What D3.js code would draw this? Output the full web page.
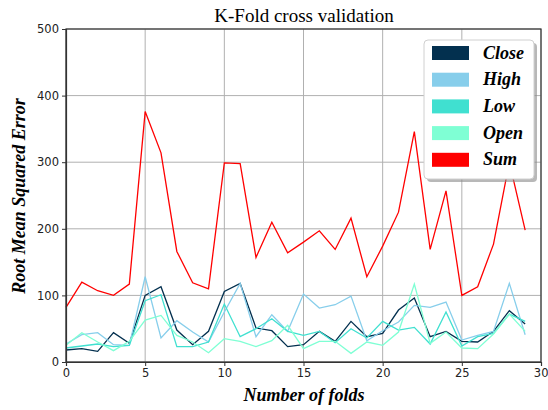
<!DOCTYPE html>
<html><head><meta charset="utf-8">
<script src="https://cdn.jsdelivr.net/npm/d3@7"></script>
<style>body{margin:0;background:#fff;} svg{display:block;}</style>
</head><body>
<svg id="chart" width="548" height="410"></svg>
<script>
const folds = d3.range(0, 30);
const closeVals = [18,20,16,44,28,100,113,48,26,46,106,118,51,47,23,26,46,31,61,38,43,78,96,38,46,31,30,46,77,57];
const highVals  = [27,41,44,26,25,128,36,62,45,30,75,118,38,71,46,102,81,86,99,32,47,60,85,82,90,33,40,46,118,41];
const lowVals   = [21,24,27,23,25,92,101,23,23,30,87,38,50,65,46,40,46,29,50,36,61,48,52,27,75,24,38,43,72,61];
const openVals  = [25,44,30,17,31,63,70,40,30,14,35,31,23,32,55,20,31,31,13,30,25,45,117,28,45,21,20,42,72,46];
const sumVals   = [82,120,107,100,117,376,314,166,119,110,299,298,157,210,164,180,197,169,216,128,174,225,346,169,257,100,113,177,300,198];
const seriesNames = ["Close","High","Low","Open","Sum"];
const seriesColors = ["#03304f","#87ceeb","#40e0d0","#7fffd4","#ff0000"];
const seriesData = [closeVals, highVals, lowVals, openVals, sumVals];
const xTicks = [0,5,10,15,20,25,30];
const yTicks = [0,100,200,300,400,500];

const svg = d3.select("#chart");
const m = {l:66, r:7, t:29, b:48};
const W = 548, H = 410;
const x = d3.scaleLinear().domain([0,30]).range([m.l, W - m.r]);
const y = d3.scaleLinear().domain([0,500]).range([H - m.b, m.t]);

// grid
svg.append("g").selectAll("line").data(xTicks).join("line")
  .attr("x1", d=>x(d)).attr("x2", d=>x(d)).attr("y1", y(0)).attr("y2", y(500))
  .attr("stroke", "#b0b0b0").attr("stroke-width", 1);
svg.append("g").selectAll("line").data(yTicks).join("line")
  .attr("x1", x(0)).attr("x2", x(30)).attr("y1", d=>y(d)).attr("y2", d=>y(d))
  .attr("stroke", "#b0b0b0").attr("stroke-width", 1);

// lines
const line = d3.line().x((d,i)=>x(folds[i])).y(d=>y(d));
seriesData.forEach((vals, k) => {
  svg.append("path").datum(vals).attr("d", line)
    .attr("fill","none").attr("stroke", seriesColors[k]).attr("stroke-width", 1.3);
});

// frame
svg.append("rect").attr("x", x(0)).attr("y", y(500)).attr("width", x(30)-x(0)).attr("height", y(0)-y(500))
  .attr("fill","none").attr("stroke","#333").attr("stroke-width",1.2);

// axes
const xAxis = svg.append("g").attr("transform", `translate(0,${y(0)})`)
  .call(d3.axisBottom(x).tickValues(xTicks).tickSize(4).tickPadding(3));
const yAxis = svg.append("g").attr("transform", `translate(${x(0)},0)`)
  .call(d3.axisLeft(y).tickValues(yTicks).tickSize(4).tickPadding(3));
[xAxis, yAxis].forEach(a => {
  a.select(".domain").attr("stroke","#333").attr("stroke-width",1.2);
  a.selectAll(".tick line").attr("stroke","#333");
  a.selectAll("text").attr("font-family","DejaVu Sans").attr("font-size","11.5px").attr("fill","#222");
});
xAxis.selectAll(".tick").filter(d => d === 30).select("text").attr("text-anchor","end").attr("dx","7");

// title and labels
svg.append("text").attr("x", 304).attr("y", 22).attr("text-anchor","middle")
  .attr("font-family","Liberation Serif").attr("font-size","19px").attr("fill","#000")
  .text("K-Fold cross validation");
svg.append("text").attr("x", 304).attr("y", 401).attr("text-anchor","middle")
  .attr("font-family","Liberation Serif").attr("font-size","18px").attr("font-weight","bold").attr("font-style","italic")
  .text("Number of folds");
svg.append("text").attr("transform","translate(25,196) rotate(-90)").attr("text-anchor","middle")
  .attr("font-family","Liberation Serif").attr("font-size","18px").attr("font-weight","bold").attr("font-style","italic")
  .text("Root Mean Squared Error");

// legend
const lg = svg.append("g");
lg.append("rect").attr("x", 427).attr("y", 43).attr("width", 110).attr("height", 139).attr("rx", 4)
  .attr("fill", "#888").attr("opacity", 0.6);
lg.append("rect").attr("x", 424).attr("y", 40).attr("width", 110).attr("height", 139).attr("rx", 4)
  .attr("fill", "#fff").attr("stroke", "#d0d0d0").attr("stroke-width", 1);
seriesNames.forEach((name, k) => {
  const yy = 46 + k*26.7;
  lg.append("rect").attr("x", 432).attr("y", yy).attr("width", 37).attr("height", 14)
    .attr("fill", seriesColors[k]);
  lg.append("text").attr("x", 483).attr("y", yy + 12.5)
    .attr("font-family","Liberation Serif").attr("font-size","18px").attr("font-weight","bold").attr("font-style","italic")
    .text(name);
});
</script>
</body></html>
